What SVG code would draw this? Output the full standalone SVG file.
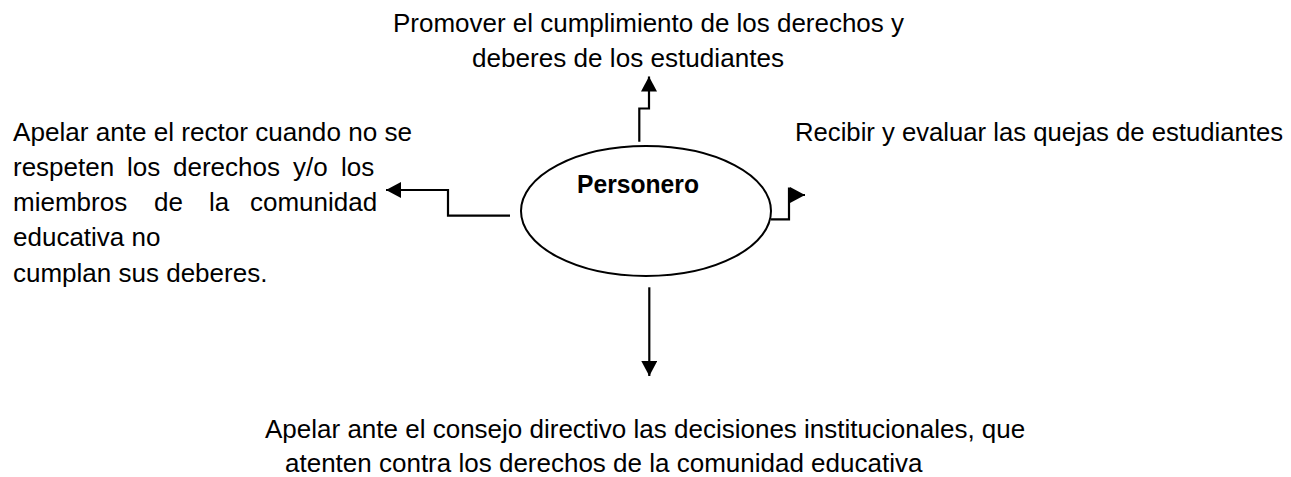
<svg xmlns="http://www.w3.org/2000/svg" width="1291" height="477" viewBox="0 0 1291 477">
  <style>
    .t { font-family: "Liberation Sans", Arial, sans-serif; font-size: 26px; fill: #000; }
    .b { font-family: "Liberation Sans", Arial, sans-serif; font-size: 26px; font-weight: bold; fill: #000; }
    .c { fill: none; stroke: #000; stroke-width: 2.2; marker-end: url(#ah); }
  </style>
  <defs>
    <marker id="ah" markerUnits="userSpaceOnUse" markerWidth="16" markerHeight="16" viewBox="0 0 15 16" refX="15" refY="8" orient="auto">
      <path d="M0,0 L15,8 L0,16 z" fill="#000"/>
    </marker>
  </defs>
  <rect width="1291" height="477" fill="#fff"/>

  <g id="personero">
    <ellipse cx="646" cy="211" rx="125" ry="65" fill="#fff" stroke="#000" stroke-width="2"/>
    <text class="b" x="577" y="193" textLength="122" lengthAdjust="spacingAndGlyphs">Personero</text>
  </g>

  <g id="promover">
    <text class="t" x="393" y="32" textLength="511" lengthAdjust="spacingAndGlyphs">Promover el cumplimiento de los derechos y</text>
    <text class="t" x="472" y="67" textLength="312" lengthAdjust="spacingAndGlyphs">deberes de los estudiantes</text>
  </g>

  <g id="apelar-rector">
    <text class="t" x="13" y="140.5" textLength="399" lengthAdjust="spacingAndGlyphs">Apelar ante el rector cuando no se</text>
    <text class="t" y="175.8"><tspan x="13">respeten</tspan><tspan x="127">los</tspan><tspan x="173">derechos</tspan><tspan x="293">y/o</tspan><tspan x="341">los</tspan></text>
    <text class="t" y="211"><tspan x="13">miembros</tspan><tspan x="154">de</tspan><tspan x="209">la</tspan><tspan x="250">comunidad</tspan></text>
    <text class="t" x="13" y="246.4">educativa no</text>
    <text class="t" x="13" y="281.7">cumplan sus deberes.</text>
  </g>

  <g id="recibir">
    <text class="t" x="795" y="141" textLength="488" lengthAdjust="spacingAndGlyphs">Recibir y evaluar las quejas de estudiantes</text>
  </g>

  <g id="apelar-consejo">
    <text class="t" x="265" y="438">Apelar ante el consejo directivo las decisiones institucionales, que</text>
    <text class="t" x="285" y="472">atenten contra los derechos de la comunidad educativa</text>
  </g>

  <g id="connectors">
    <path class="c" d="M639.3,141.7 V108.5 H649 V76.5"/>
    <path class="c" d="M510,215.7 H448 V190 H386"/>
    <path class="c" d="M770.7,219.3 H789 V187.5 M789,195 H805"/>
    <path class="c" d="M649.3,287.3 V376"/>
  </g>
</svg>
